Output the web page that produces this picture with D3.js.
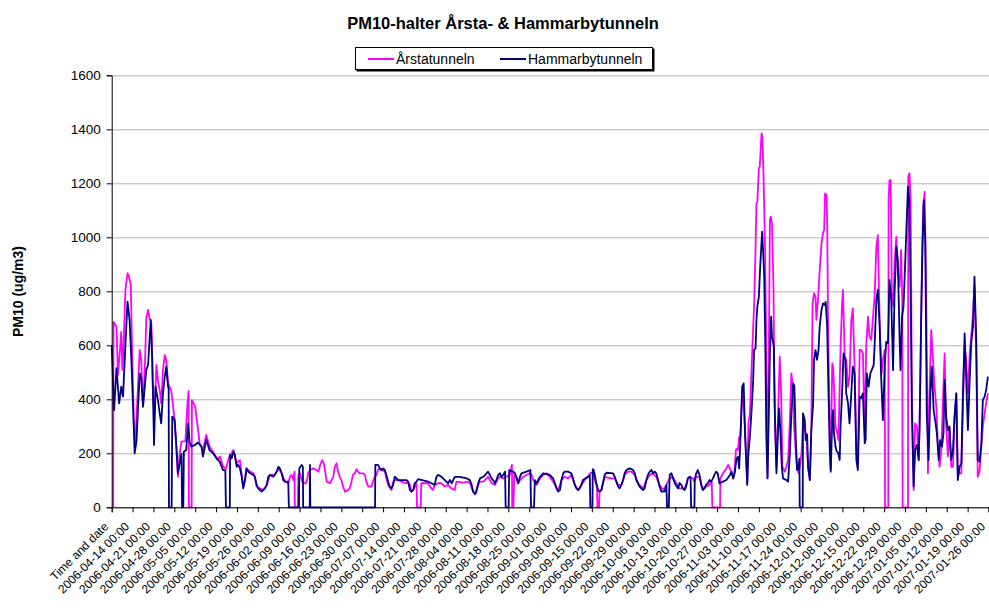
<!DOCTYPE html>
<html>
<head>
<meta charset="utf-8">
<script src="https://cdn.jsdelivr.net/npm/d3@7"></script>
<style>
  body { margin: 0; background: #fff; }
  svg { display: block; font-family: "Liberation Sans", Arial, sans-serif; }
</style>
</head>
<body>
<div id="chart"></div>
<script>
// [day since first sample, PM10 ug/m3]
const arsta = [
  [0,0],[0.5,0],[0.6,687],[1.6,669],[2.1,490],[2.7,570],[3.2,650],[3.6,509],[4.1,632],[4.6,805],[5.3,867],[5.8,854],[6.4,823],[6.8,607],[7.5,274],[7.9,243],[8.6,397],[9.4,583],[9.9,546],[10.5,373],[11.1,509],[11.6,700],[12.2,731],[12.7,700],[13.3,681],[13.9,397],[14.4,348],[15.0,527],[15.5,471],[16.1,434],[16.6,385],[17.2,509],[17.8,564],[18.3,546],[18.9,459],[20.0,430],[21.1,323],[21.7,212],[22.2,113],[22.8,200],[23.4,243],[24.7,245],[25.4,385],[25.8,430],[25.9,0],[26.8,0],[26.9,397],[28.0,373],[28.7,311],[29.5,237],[30.6,212],[31.7,268],[32.8,225],[34.0,206],[35.6,175],[36.3,188],[37.4,150],[38.3,144],[39.1,175],[39.7,194],[40.2,200],[40.8,212],[41.3,188],[41.9,163],[42.4,169],[43.0,175],[43.6,120],[44.1,77],[44.7,101],[45.2,144],[46.4,132],[47.5,126],[48.0,113],[48.6,77],[49.7,70],[50.8,64],[52.0,83],[53.1,120],[54.7,120],[55.9,144],[57.0,126],[58.1,95],[59.2,89],[59.8,113],[60.3,120],[60.9,101],[61.3,132],[61.4,0],[62.4,0],[62.6,120],[63.1,126],[63.7,101],[64.2,89],[65.0,89],[65.4,95],[65.9,126],[66.5,138],[67.6,144],[68.7,138],[69.3,132],[70.0,160],[70.6,175],[71.2,160],[71.5,138],[72.1,95],[73.2,89],[74.3,113],[74.8,150],[75.4,163],[75.9,132],[76.5,113],[77.0,101],[77.6,77],[78.2,58],[79.3,64],[79.8,70],[80.4,95],[80.9,120],[81.5,126],[82.1,141],[82.6,132],[83.2,126],[84.3,126],[84.9,120],[85.4,95],[86.0,77],[87.1,77],[87.6,95],[88.2,113],[88.8,120],[89.3,138],[89.9,144],[91.6,132],[92.1,107],[92.7,83],[93.8,64],[94.4,95],[94.9,101],[96.0,101],[97.1,95],[98.8,89],[99.4,95],[100.0,83],[100.5,58],[101.1,64],[102.2,89],[102.4,0],[103.6,0],[103.8,89],[106.1,89],[107.2,70],[107.8,64],[108.3,83],[109.4,89],[110.6,89],[111.7,77],[112.8,83],[113.9,70],[115.0,64],[115.6,95],[117.9,91],[119.5,95],[120.1,89],[121.2,58],[121.8,49],[122.9,83],[123.5,95],[124.6,95],[125.7,107],[126.2,113],[127.4,89],[128.5,83],[129.6,107],[130.2,113],[131.3,107],[132.4,113],[133.5,120],[133.8,138],[134.2,157],[134.3,0],[134.7,0],[135.0,126],[135.7,107],[136.3,89],[136.9,101],[138.0,113],[140.2,126],[140.8,120],[141.3,101],[142.5,83],[143.6,107],[144.7,120],[145.8,126],[146.9,113],[148.0,95],[149.2,70],[149.7,64],[150.8,101],[151.9,113],[153.0,107],[154.1,120],[154.7,101],[155.3,83],[156.4,64],[157.5,83],[158.6,101],[159.7,113],[160.6,128],[161.4,126],[162.0,101],[162.5,83],[162.7,80],[162.9,0],[163.4,0],[163.6,58],[164.2,64],[165.3,113],[167.5,107],[168.7,107],[169.8,83],[170.9,83],[172.0,120],[173.1,132],[174.2,132],[175.4,120],[176.5,89],[178.2,70],[179.3,101],[180.4,120],[181.5,126],[182.6,113],[183.7,83],[184.9,64],[186.0,83],[187.1,107],[188.2,113],[189.3,89],[190.4,70],[192.1,70],[192.6,83],[193.2,107],[193.8,113],[194.9,107],[195.4,95],[196.0,113],[197.1,113],[197.7,83],[198.2,70],[199.3,76],[200.5,83],[201.0,95],[201.2,95],[201.4,0],[204.0,0],[204.1,107],[205.0,126],[206.1,144],[206.7,157],[207.8,132],[208.4,107],[208.9,140],[209.3,212],[209.7,218],[210.0,212],[210.4,262],[210.8,262],[211.4,410],[211.9,385],[212.4,274],[213.1,89],[213.5,311],[214.0,348],[214.5,496],[215.1,669],[215.4,743],[215.9,965],[216.2,1126],[216.5,1132],[217.0,1255],[217.3,1262],[217.9,1385],[218.2,1373],[218.6,1212],[219.1,940],[219.5,570],[219.9,113],[220.3,500],[220.7,1064],[221.0,1076],[221.4,1052],[221.9,817],[222.3,366],[222.9,150],[223.5,366],[224.0,558],[224.5,410],[224.9,150],[225.7,132],[226.2,150],[226.8,175],[227.4,323],[227.9,496],[228.3,459],[228.7,323],[229.4,200],[229.8,150],[230.3,126],[230.7,150],[231.3,200],[231.8,323],[232.4,286],[232.9,262],[233.5,150],[234.1,101],[234.6,299],[235.0,755],[235.5,792],[236.0,780],[236.3,694],[236.9,780],[237.4,879],[238.0,977],[238.5,1015],[238.9,1027],[239.2,1163],[239.7,1157],[239.9,1064],[240.2,694],[240.8,262],[241.1,138],[241.6,533],[241.9,521],[242.2,447],[242.7,299],[243.3,274],[243.7,249],[244.4,595],[244.9,755],[245.2,805],[245.8,558],[246.3,546],[246.9,447],[247.4,484],[248.0,694],[248.5,737],[249.1,521],[249.7,200],[250.2,175],[250.8,583],[251.3,583],[251.9,570],[252.5,274],[253.0,595],[253.6,706],[254.1,632],[254.7,620],[255.2,694],[255.8,780],[256.4,965],[256.9,1008],[257.3,792],[257.7,620],[258.2,496],[258.6,546],[259.2,583],[259.3,0],[260.4,0],[260.5,1138],[260.8,1212],[261.2,1212],[261.6,792],[262.1,743],[262.5,904],[263.1,1002],[263.6,879],[264.2,817],[264.7,953],[265.1,768],[265.2,0],[267.0,0],[267.1,1225],[267.5,1237],[267.9,1138],[268.3,422],[268.9,64],[269.4,311],[270.0,299],[270.6,175],[271.1,422],[271.7,916],[272.1,1113],[272.6,1169],[273.1,792],[273.7,126],[274.2,422],[274.8,656],[275.4,546],[275.9,447],[276.5,373],[277.0,237],[277.6,150],[278.2,212],[278.7,385],[279.3,570],[279.8,299],[280.4,188],[280.9,299],[281.5,150],[282.1,150],[282.6,323],[283.2,422],[283.7,126],[284.9,126],[285.4,360],[286.0,595],[286.5,546],[287.1,422],[287.7,570],[288.2,632],[288.8,718],[289.3,817],[289.9,546],[290.4,113],[291.0,132],[291.6,225],[292.1,299],[292.7,348],[293.2,385],[293.8,422]
];
const hammarby = [
  [0,601],[0.8,360],[1.6,515],[2.5,385],[3.2,447],[3.8,410],[4.6,600],[5.3,762],[6.0,694],[6.6,546],[7.2,360],[7.7,200],[8.3,243],[8.8,360],[9.4,496],[9.9,478],[10.5,373],[11.1,447],[11.6,509],[12.2,527],[12.7,620],[13.1,694],[13.6,546],[14.2,231],[14.7,447],[15.5,397],[16.1,348],[16.6,311],[17.2,422],[17.8,484],[18.3,521],[18.9,447],[19.1,440],[19.2,0],[20.1,0],[20.3,336],[21.1,323],[21.7,225],[22.2,126],[22.8,163],[23.4,200],[23.6,0],[24.0,0],[24.2,206],[25.0,212],[25.6,311],[26.1,243],[26.7,225],[27.8,230],[28.9,240],[30.1,225],[30.6,188],[31.7,250],[32.8,212],[34.0,200],[35.1,182],[36.2,169],[37.3,138],[38.1,138],[38.3,0],[39.6,0],[39.7,194],[40.2,181],[40.8,206],[41.3,194],[41.9,150],[42.4,157],[43.0,144],[43.6,113],[44.1,70],[44.7,101],[45.2,144],[45.8,132],[46.4,126],[47.5,120],[48.0,113],[48.6,83],[49.1,70],[49.7,64],[50.3,58],[50.8,64],[51.4,70],[52.0,83],[52.5,113],[53.1,120],[54.2,113],[54.7,120],[55.3,132],[55.9,150],[56.4,144],[57.0,126],[57.5,101],[58.1,95],[59.2,95],[59.4,0],[62.8,0],[62.9,144],[63.7,157],[64.1,150],[64.2,0],[66.4,0],[66.5,157],[66.6,0],[88.3,0],[88.4,157],[89.3,157],[89.9,144],[90.4,138],[91.0,144],[91.6,138],[92.1,120],[92.7,95],[93.2,77],[93.8,70],[94.4,83],[94.9,113],[95.5,107],[96.0,101],[98.8,101],[99.4,95],[100.0,64],[100.5,58],[101.1,64],[101.6,89],[102.2,95],[102.7,104],[106.1,95],[107.2,89],[108.3,83],[108.9,113],[109.4,120],[110.6,113],[111.7,101],[112.8,89],[113.4,101],[114.0,89],[114.5,101],[115.1,113],[116.8,113],[119.0,107],[120.1,101],[120.7,83],[121.2,58],[121.8,49],[122.3,58],[122.9,89],[123.5,107],[124.6,113],[125.7,126],[126.2,132],[126.8,120],[127.4,107],[127.9,101],[128.5,89],[129.0,101],[129.6,120],[130.2,126],[130.7,113],[131.3,120],[131.9,132],[132.1,0],[133.1,0],[133.3,138],[134.6,132],[135.2,126],[135.7,113],[136.3,89],[136.9,113],[137.4,126],[139.1,132],[140.4,138],[140.6,0],[141.6,0],[141.9,101],[142.5,89],[143.0,101],[143.6,113],[144.7,126],[146.9,120],[148.0,107],[148.6,89],[149.2,70],[149.7,58],[150.3,64],[150.8,101],[151.4,126],[151.9,132],[153.0,132],[154.1,126],[154.7,107],[155.3,83],[155.8,70],[156.4,64],[156.9,70],[157.5,83],[158.0,101],[159.7,113],[160.3,120],[160.5,0],[161.2,0],[161.3,141],[161.6,138],[162.0,120],[162.5,89],[163.1,64],[163.6,58],[164.2,64],[164.7,89],[165.3,120],[165.9,128],[168.1,126],[168.7,113],[169.2,95],[169.8,77],[170.3,70],[170.9,83],[171.5,101],[172.0,126],[172.6,138],[173.7,144],[174.8,138],[175.4,126],[175.9,101],[176.5,89],[177.0,77],[178.2,64],[178.7,70],[179.3,101],[179.8,120],[180.4,132],[181.0,138],[181.5,126],[182.1,132],[182.6,126],[183.2,101],[183.7,77],[184.3,58],[185.4,58],[186.0,83],[186.2,0],[186.8,0],[187.1,120],[187.7,126],[188.2,107],[188.8,89],[189.9,70],[190.4,90],[191.0,83],[191.5,70],[192.1,64],[192.6,76],[193.2,107],[193.8,113],[194.1,107],[194.3,0],[195.4,0],[195.5,101],[196.0,126],[196.5,138],[197.1,120],[197.7,83],[198.2,64],[198.8,70],[199.3,83],[199.9,89],[200.5,101],[201.0,95],[201.6,107],[202.1,120],[202.7,132],[203.2,126],[203.8,89],[205.0,95],[206.1,101],[207.3,120],[207.8,132],[208.4,107],[208.9,126],[209.5,181],[210.0,187],[210.4,144],[210.8,249],[211.4,447],[211.9,459],[212.4,262],[213.1,83],[213.5,200],[214.0,262],[214.5,348],[215.1,471],[215.4,582],[215.9,589],[216.2,694],[216.5,743],[217.0,780],[217.5,904],[218.1,1021],[218.4,953],[218.8,854],[219.2,570],[219.5,262],[219.9,107],[220.3,323],[220.7,570],[221.1,706],[221.4,632],[222.0,595],[222.4,323],[222.9,126],[223.5,299],[223.8,366],[224.2,286],[224.7,150],[225.1,107],[226.2,101],[226.8,95],[227.4,200],[227.9,348],[228.5,459],[228.9,450],[229.4,249],[229.8,138],[230.3,150],[230.6,180],[230.7,0],[231.7,0],[231.8,348],[232.4,323],[232.7,249],[233.2,270],[233.5,150],[234.1,101],[234.6,286],[235.2,385],[235.5,546],[236.0,582],[236.5,546],[237.0,582],[237.4,669],[238.0,731],[238.5,755],[239.1,749],[239.4,761],[239.9,669],[240.3,447],[240.8,200],[241.1,132],[241.6,323],[241.9,360],[242.2,274],[242.7,225],[243.0,210],[243.6,200],[244.1,175],[244.4,299],[244.9,422],[245.4,570],[246.0,546],[246.3,422],[246.9,385],[247.4,311],[248.0,422],[248.5,521],[249.1,496],[249.7,175],[250.2,138],[250.8,410],[251.3,404],[251.9,422],[252.5,237],[252.8,250],[253.2,496],[253.8,447],[254.4,496],[254.9,510],[255.5,527],[255.8,595],[256.4,768],[256.9,805],[257.5,669],[258.0,484],[258.6,323],[259.2,521],[259.7,613],[260.3,607],[260.8,842],[261.4,768],[262.0,508],[262.5,792],[263.1,965],[263.6,916],[264.2,620],[264.5,508],[265.0,706],[265.5,743],[266.1,916],[266.5,1039],[267.0,1188],[267.4,1138],[267.9,792],[268.3,360],[268.9,77],[269.4,212],[270.0,231],[270.6,175],[270.9,299],[271.4,694],[271.9,978],[272.3,1138],[272.8,978],[273.3,348],[273.9,175],[274.5,422],[275.0,521],[275.6,360],[276.1,323],[276.7,274],[277.3,175],[277.8,249],[278.4,225],[278.9,274],[279.3,472],[279.8,336],[280.4,286],[280.9,299],[281.5,175],[282.1,212],[282.6,336],[283.2,422],[283.7,101],[284.3,150],[284.9,162],[285.4,410],[286.0,644],[286.5,484],[287.1,286],[287.7,472],[288.2,607],[288.8,669],[289.3,854],[289.9,620],[290.4,175],[291.0,169],[291.6,237],[292.1,397],[292.7,410],[293.2,434],[293.8,484]
];

// category labels, one every 7 days
const xLabels = ["Time and date",
  "2006-04-14 00:00","2006-04-21 00:00","2006-04-28 00:00","2006-05-05 00:00","2006-05-12 00:00","2006-05-19 00:00","2006-05-26 00:00",
  "2006-06-02 00:00","2006-06-09 00:00","2006-06-16 00:00","2006-06-23 00:00","2006-06-30 00:00","2006-07-07 00:00","2006-07-14 00:00",
  "2006-07-21 00:00","2006-07-28 00:00","2006-08-04 00:00","2006-08-11 00:00","2006-08-18 00:00","2006-08-25 00:00","2006-09-01 00:00",
  "2006-09-08 00:00","2006-09-15 00:00","2006-09-22 00:00","2006-09-29 00:00","2006-10-06 00:00","2006-10-13 00:00","2006-10-20 00:00",
  "2006-10-27 00:00","2006-11-03 00:00","2006-11-10 00:00","2006-11-17 00:00","2006-11-24 00:00","2006-12-01 00:00","2006-12-08 00:00",
  "2006-12-15 00:00","2006-12-22 00:00","2006-12-29 00:00","2007-01-05 00:00","2007-01-12 00:00","2007-01-19 00:00","2007-01-26 00:00"];
const xTickDays = xLabels.map((d, i) => i * 7);
const yTicks = [0, 200, 400, 600, 800, 1000, 1200, 1400, 1600];
const seriesNames = ["Årstatunneln", "Hammarbytunneln"];
const seriesColors = ["#ff00ff", "#000080"];

const config = {
    width: 989,
    height: 608,
    left: 111.7,
    right: 988.5,
    top: 75.3,
    bottom: 507.3,
    title: "PM10-halter Årsta- & Hammarbytunneln",
    yTitle: "PM10 (ug/m3)"
}

const svg = d3.select("#chart")
    .append("svg")
    .attr("width", config.width)
    .attr("height", config.height)

const scale_x = d3.scaleLinear()
    .domain([0, 294])
    .range([config.left, config.right])
const scale_y = d3.scaleLinear()
    .domain([0, 1600])
    .range([config.bottom, config.top])

draw_grid()
draw_lines()
draw_axis()
draw_text()
draw_legend()

function draw_grid() {
    const g = svg.append("g")
        .attr("transform", `translate(${config.left}, 0)`)
        .call(d3.axisLeft(scale_y).tickValues(yTicks).tickSize(-(config.width - config.left)).tickFormat(""))
    g.select(".domain").remove()
    g.selectAll("line").attr("stroke", "#b4b4b4").attr("stroke-width", 1)
}

function draw_lines() {
    const line = d3.line()
        .x(d => scale_x(d[0]))
        .y(d => scale_y(d[1]))
    ;[arsta, hammarby].forEach((data, i) => {
        svg.append("path")
            .datum(data)
            .attr("fill", "none")
            .attr("stroke", seriesColors[i])
            .attr("stroke-width", 1.8)
            .attr("stroke-linejoin", "round")
            .attr("d", line)
    })
}

function draw_axis() {
    // y axis
    const g_axisY = svg.append("g")
        .attr("transform", `translate(${config.left}, 0)`)
        .call(d3.axisLeft(scale_y).tickValues(yTicks).tickSize(5).tickPadding(6).tickFormat(d3.format("d")))
    g_axisY.select(".domain").attr("stroke", "#000")
    g_axisY.selectAll("text")
        .attr("font-size", "13.5px")
        .attr("font-family", "Liberation Sans, Arial, sans-serif")
        .attr("fill", "#000")

    // x axis, labels turned 45 degrees
    const g_axisX = svg.append("g")
        .attr("transform", `translate(0, ${config.bottom})`)
        .call(d3.axisBottom(scale_x).tickValues(xTickDays).tickSize(5)
            .tickFormat((d, i) => xLabels[i]))
    g_axisX.select(".domain").attr("stroke", "#000")
    g_axisX.selectAll("text")
        .attr("font-size", "12px")
        .attr("font-family", "Liberation Sans, Arial, sans-serif")
        .attr("fill", "#000")
        .attr("text-anchor", "end")
        .attr("x", 0).attr("y", 0).attr("dy", 0)
        .attr("transform", "translate(-3, 20) rotate(-45)")
}

function draw_text() {
    svg.append("text")
        .attr("x", 503)
        .attr("y", 29)
        .attr("text-anchor", "middle")
        .attr("font-size", "16.5px")
        .attr("font-weight", "bold")
        .text(config.title)
    svg.append("text")
        .attr("transform", "translate(23, 291.5) rotate(-90)")
        .attr("text-anchor", "middle")
        .attr("font-size", "14px")
        .attr("font-weight", "bold")
        .text(config.yTitle)
}

function draw_legend() {
    const g = svg.append("g").attr("transform", "translate(355, 47)")
    g.append("rect").attr("x", 1.5).attr("y", 1.5).attr("width", 298).attr("height", 23).attr("fill", "#000")
    g.append("rect").attr("x", 0.5).attr("y", 0.5).attr("width", 297).attr("height", 22)
        .attr("fill", "#fff").attr("stroke", "#000")
    const itemX = [13, 145]
    seriesNames.forEach((name, i) => {
        g.append("line")
            .attr("x1", itemX[i]).attr("x2", itemX[i] + 26)
            .attr("y1", 12).attr("y2", 12)
            .attr("stroke", seriesColors[i]).attr("stroke-width", 2)
        g.append("text")
            .attr("x", itemX[i] + 28)
            .attr("y", 17)
            .attr("font-size", "14px")
            .text(name)
    })
}
</script>
</body>
</html>
